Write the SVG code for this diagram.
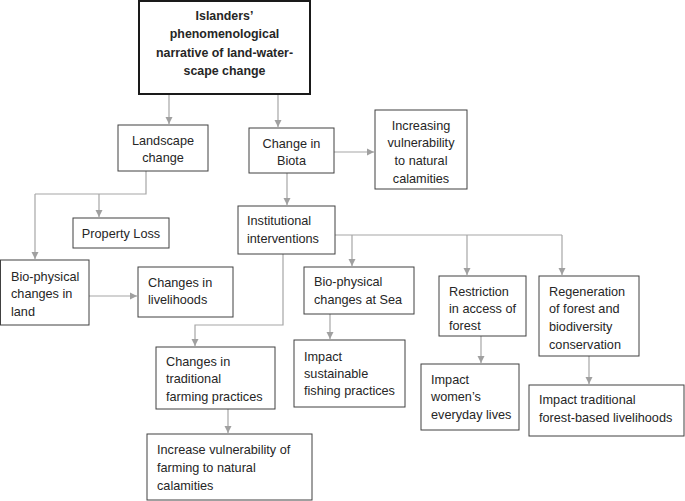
<svg xmlns="http://www.w3.org/2000/svg" width="685" height="501" viewBox="0 0 685 501">
<defs>
<marker id="ah" markerUnits="userSpaceOnUse" markerWidth="8" markerHeight="8" refX="7" refY="4" orient="auto">
<path d="M0,0.5 L7,4 L0,7.5 Z" fill="#a0a0a0"/>
</marker>
<style>
.box{fill:#fff;stroke:#404040;stroke-width:1}
.main{fill:#fff;stroke:#1a1a1a;stroke-width:2}
.t{font-family:"Liberation Sans",Arial,sans-serif;font-size:12.7px;fill:#262626}
.c{text-anchor:middle}
.b{font-weight:bold;font-size:12.4px}
.con path{fill:none;stroke:#a6a6a6;stroke-width:1.2;marker-end:url(#ah)}
.con path.nm{marker-end:none}
</style>
</defs>
<rect width="685" height="501" fill="#fff"/>
<g class="con" id="connectors">
<path d="M169,94 V124"/>
<path d="M278,94 V127"/>
<path class="nm" d="M146,171 V194 H35"/>
<path d="M35,194 V259"/>
<path d="M99,194 V217"/>
<path d="M89,296 H137"/>
<path d="M334,152 H374"/>
<path d="M287,173 V205"/>
<path class="nm" d="M335,235 H562"/>
<path d="M352,235 V266"/>
<path d="M467,235 V275"/>
<path d="M562,235 V275"/>
<path d="M283,254 V325 H195 V346"/>
<path d="M228,409 V433"/>
<path d="M330,314 V339"/>
<path d="M481,336 V363"/>
<path d="M589,356 V384"/>
</g>
<g id="n-main"><rect class="main" x="139" y="1" width="171" height="93"/>
<text class="t c b" x="224.5"><tspan x="224.5" y="20">Islanders’</tspan><tspan x="224.5" y="38">phenomenological</tspan><tspan x="224.5" y="56.5">narrative of land-water-</tspan><tspan x="224.5" y="75">scape change</tspan></text></g>
<g id="n-landscape"><rect class="box" x="118" y="125" width="90" height="46"/>
<text class="t c"><tspan x="163" y="144.5">Landscape</tspan><tspan x="163" y="162">change</tspan></text></g>
<g id="n-biota"><rect class="box" x="249" y="128" width="85" height="45"/>
<text class="t c"><tspan x="291.5" y="147.5">Change in</tspan><tspan x="291.5" y="165">Biota</tspan></text></g>
<g id="n-increasing"><rect class="box" x="375" y="110" width="92" height="79"/>
<text class="t c"><tspan x="421" y="129.5">Increasing</tspan><tspan x="421" y="147">vulnerability</tspan><tspan x="421" y="164.5">to natural</tspan><tspan x="421" y="182.5">calamities</tspan></text></g>
<g id="n-property"><rect class="box" x="73" y="218" width="96" height="30"/>
<text class="t c" x="121" y="237.5">Property Loss</text></g>
<g id="n-institutional"><rect class="box" x="238" y="206" width="97" height="48"/>
<text class="t"><tspan x="247" y="224.5">Institutional</tspan><tspan x="247" y="242.5">interventions</tspan></text></g>
<g id="n-bioland"><rect class="box" x="0.5" y="260" width="88.5" height="65"/>
<text class="t"><tspan x="11" y="280.5">Bio-physical</tspan><tspan x="11" y="297.5">changes in</tspan><tspan x="11" y="315.5">land</tspan></text></g>
<g id="n-livelihoods"><rect class="box" x="138" y="267" width="95" height="50"/>
<text class="t"><tspan x="148" y="286.5">Changes in</tspan><tspan x="148" y="303.5">livelihoods</tspan></text></g>
<g id="n-sea"><rect class="box" x="304" y="267" width="110" height="47"/>
<text class="t"><tspan x="314" y="285.5">Bio-physical</tspan><tspan x="314" y="303.5">changes at Sea</tspan></text></g>
<g id="n-restriction"><rect class="box" x="439" y="276" width="87" height="60"/>
<text class="t"><tspan x="449" y="295.5">Restriction</tspan><tspan x="449" y="312.5">in access of</tspan><tspan x="449" y="329.5">forest</tspan></text></g>
<g id="n-regeneration"><rect class="box" x="539" y="276" width="100" height="80"/>
<text class="t"><tspan x="549" y="295.5">Regeneration</tspan><tspan x="549" y="312.5">of forest and</tspan><tspan x="549" y="330.5">biodiversity</tspan><tspan x="549" y="348.5">conservation</tspan></text></g>
<g id="n-fishing"><rect class="box" x="294" y="340" width="111" height="67"/>
<text class="t"><tspan x="304" y="360.5">Impact</tspan><tspan x="304" y="377.5">sustainable</tspan><tspan x="304" y="394.5">fishing practices</tspan></text></g>
<g id="n-women"><rect class="box" x="421" y="364" width="98" height="66"/>
<text class="t"><tspan x="431" y="383.5">Impact</tspan><tspan x="431" y="400.5">women’s</tspan><tspan x="431" y="418.5">everyday lives</tspan></text></g>
<g id="n-forestlive"><rect class="box" x="529" y="385" width="155" height="51"/>
<text class="t"><tspan x="539" y="403.5">Impact traditional</tspan><tspan x="539" y="421.5">forest-based livelihoods</tspan></text></g>
<g id="n-farming"><rect class="box" x="156" y="347" width="119" height="62"/>
<text class="t"><tspan x="166" y="365.5">Changes in</tspan><tspan x="166" y="382.5">traditional</tspan><tspan x="166" y="400.5">farming practices</tspan></text></g>
<g id="n-increase"><rect class="box" x="147" y="434" width="165" height="66"/>
<text class="t"><tspan x="157" y="453.5">Increase vulnerability of</tspan><tspan x="157" y="471.5">farming to natural</tspan><tspan x="157" y="489.5">calamities</tspan></text></g>
</svg>
